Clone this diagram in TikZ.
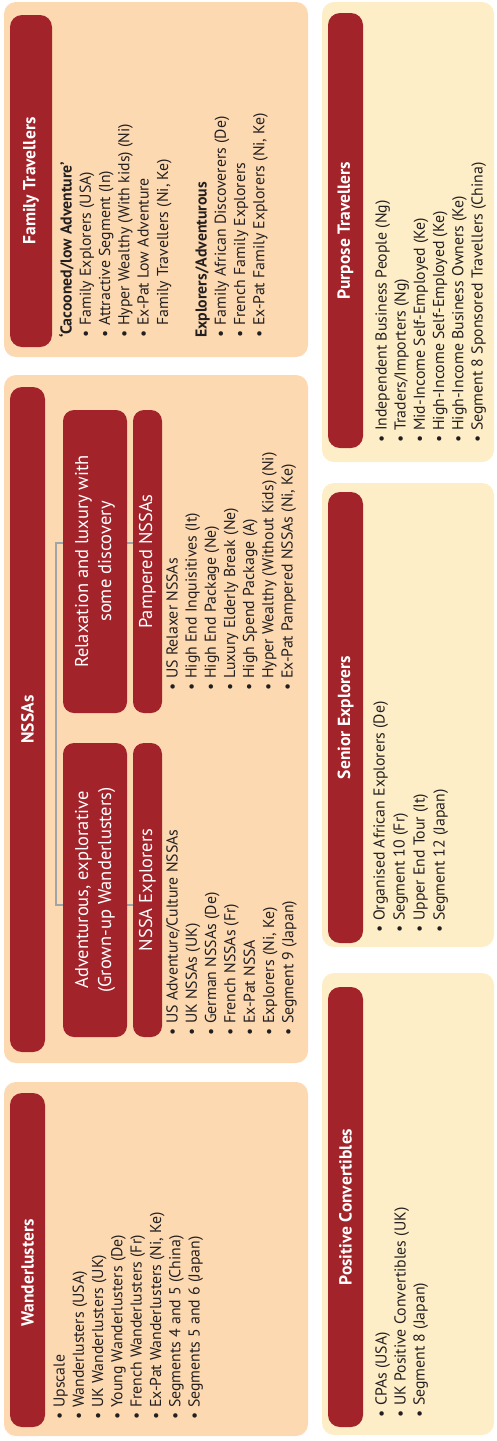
\documentclass[tikz,border=0pt]{standalone}
\usepackage{fontspec}
\setmainfont{PT Sans}
\usetikzlibrary{calc}
\definecolor{peach}{HTML}{FCD9B1}
\definecolor{cream}{HTML}{FDEEC8}
\definecolor{barred}{HTML}{A3232A}
\definecolor{lineg}{HTML}{9EA5AE}
\definecolor{textc}{HTML}{231F20}
\pgfdeclarelayer{boxes}
\pgfdeclarelayer{lines}
\pgfsetlayers{boxes,lines,main}
\newcommand\myb[1]{\makebox[12pt][l]{\textbullet}#1}
\newcommand\myind[1]{\hspace*{12pt}#1}
\newcommand\blist[5]{%
  \foreach \t [count=\i] in {#5} {
    \node[item, name=#1\i] at ({#2+(\i-1)*#3}, #4) {\t};
  }}
\tikzset{
  outerL/.style={fill=peach, rounded corners=12pt},
  outerR/.style={fill=cream, rounded corners=12pt},
  bar/.style={fill=barred, rounded corners=12pt, rotate=90, inner sep=0pt,
    text=white, font=\fontsize{17.5}{20}\selectfont\bfseries},
  subbar/.style={fill=barred, rounded corners=11pt, rotate=90, inner sep=0pt,
    text=white, font=\fontsize{18.5}{23}\selectfont, align=center},
  item/.style={rotate=90, anchor=base west, inner sep=0pt,
    font=\fontsize{15.8}{18}\selectfont, text=textc},
  conn/.style={draw=lineg, line width=1.8pt},
}
\begin{document}
\begin{tikzpicture}[x=1pt,y=-1pt]
\useasboundingbox (0,0) rectangle (496,1441);
% outer panels
\begin{pgfonlayer}{boxes}
\path[outerL] (4,2) rectangle (308,357);
\path[outerL] (4,375) rectangle (308,1063);
\path[outerL] (4,1082) rectangle (308,1436);
\path[outerR] (322,2) rectangle (494,462);
\path[outerR] (322,483) rectangle (494,947);
\path[outerR] (322,973) rectangle (494,1435);
\end{pgfonlayer}
% header bars
\node[bar, minimum width=332pt, minimum height=42pt] (famb) at (31,181) {Family Travellers};
\node[bar, minimum width=665pt, minimum height=35pt] (nssab) at (27.5,719.5) {NSSAs};
\node[bar, minimum width=334pt, minimum height=35pt] (wandb) at (27.5,1260) {Wanderlusters\kern26pt};
\node[bar, minimum width=435pt, minimum height=35pt] (purpb) at (345.5,230.5) {Purpose Travellers};
\node[bar, minimum width=451pt, minimum height=35pt] (senb) at (345.5,717.5) {Senior Explorers};
\node[bar, minimum width=440pt, minimum height=35pt] (posb) at (345.5,1207) {Positive Convertibles};
% NSSA sub boxes
\node[subbar, minimum width=303pt, minimum height=64pt] (relax) at (95,561.5) {Relaxation and luxury with\\some discovery};
\node[subbar, minimum width=303pt, minimum height=29pt] (pamp) at (147.5,561.5) {Pampered NSSAs};
\node[subbar, minimum width=294pt, minimum height=64pt] (adv) at (95,890) {Adventurous, explorative\\(Grown-up Wanderlusters)};
\node[subbar, minimum width=294pt, minimum height=29pt] (expl) at (147.5,890) {NSSA Explorers};
\coordinate (brtop) at (56,543);
\coordinate (brbot) at (56,905);
\begin{pgfonlayer}{lines}
\draw[conn] (pamp.north |- brtop) -- (brtop) -- (brbot) -- (expl.north |- brbot);
\end{pgfonlayer}
% lists
\blist{fa}{71.5}{19.3}{338}{{\textbf{‘Cacooned/low Adventure’}}, \myb{Family Explorers (USA)}, \myb{Attractive Segment (In)}, \myb{Hyper Wealthy (With kids) (Ni)}, \myb{Ex-Pat Low Adventure}, \myind{Family Travellers (Ni, Ke)}}
\blist{fb}{206.5}{19.3}{338}{{\textbf{Explorers/Adventurous}}, \myb{Family African Discoverers (De)}, \myb{French Family Explorers}, \myb{Ex-Pat Family Explorers (Ni, Ke)}}
\blist{pa}{177.5}{19.17}{691}{\myb{US Relaxer NSSAs}, \myb{High End Inquisitives (It)}, \myb{High End Package (Ne)}, \myb{Luxury Elderly Break (Ne)}, \myb{High Spend Package (A)}, \myb{Hyper Wealthy (Without Kids) (Ni)}, \myb{Ex-Pat Pampered NSSAs (Ni, Ke)}}
\blist{ex}{177.5}{19.33}{1036}{\myb{US Adventure/Culture NSSAs}, \myb{UK NSSAs (UK)}, \myb{German NSSAs (De)}, \myb{French NSSAs (Fr)}, \myb{Ex-Pat NSSA}, \myb{Explorers (Ni, Ke)}, \myb{Segment 9 (Japan)}}
\blist{wa}{64.5}{19.3}{1420}{\myb{Upscale}, \myb{Wanderlusters (USA)}, \myb{UK Wanderlusters (UK)}, \myb{Young Wanderlusters (De)}, \myb{French Wanderlusters (Fr)}, \myb{Ex-Pat Wanderlusters (Ni, Ke)}, \myb{Segments 4 and 5 (China)}, \myb{Segments 5 and 6 (Japan)}}
\blist{pu}{386.5}{19.2}{443}{\myb{Independent Business People (Ng)}, \myb{Traders/Importers (Ng)}, \myb{Mid-Income Self-Employed (Ke)}, \myb{High-Income Self-Employed (Ke)}, \myb{High-Income Business Owners (Ke)}, \myb{Segment 8 Sponsored Travellers (China)}}
\blist{se}{384.5}{20}{933}{\myb{Organised African Explorers (De)}, \myb{Segment 10 (Fr)}, \myb{Upper End Tour (It)}, \myb{Segment 12 (Japan)}}
\blist{po}{386.5}{19}{1418}{\myb{CPAs (USA)}, \myb{UK Positive Convertibles (UK)}, \myb{Segment 8 (Japan)}}
\end{tikzpicture}
\end{document}
